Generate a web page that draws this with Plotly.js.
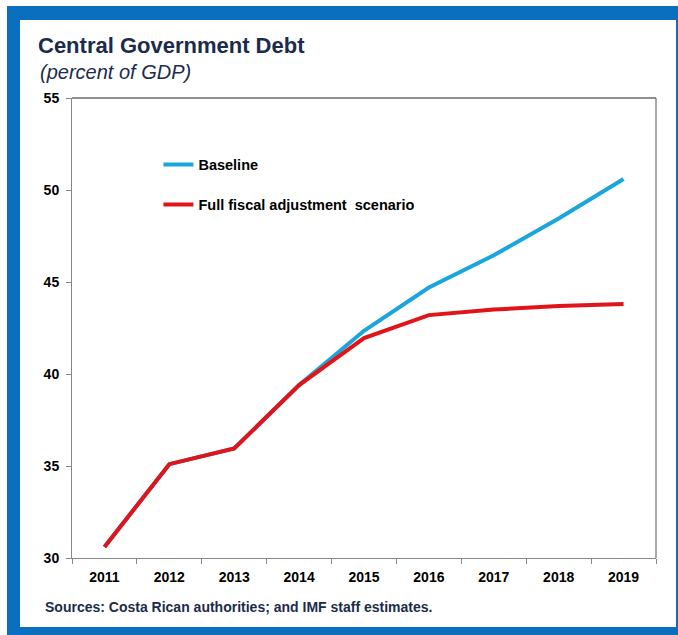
<!DOCTYPE html>
<html>
<head>
<meta charset="utf-8">
<script src="https://cdn.plot.ly/plotly-3.0.1.min.js"></script>
<style>
  html, body { margin: 0; padding: 0; background: #ffffff; }
  #wrap { position: relative; width: 678px; height: 635px; overflow: hidden; background: #ffffff; }
  #frame { position: absolute; left: 7px; top: 6px; right: 0px; bottom: 0px;
           border-top: 14px solid #0b6fc0; border-left: 13px solid #0b6fc0;
           border-right: 2px solid #0b6fc0; border-bottom: 8px solid #0b6fc0; box-sizing: border-box; }
  #chart { position: absolute; left: 0; top: 0; width: 678px; height: 635px; }
</style>
</head>
<body>
<div id="wrap">
  <div id="frame"></div>
  <div id="chart"></div>
</div>
<script>
const years = ['2011', '2012', '2013', '2014', '2015', '2016', '2017', '2018', '2019'];
const baseline = [30.6, 35.1, 35.95, 39.4, 42.35, 44.7, 46.45, 48.45, 50.6];
const fullAdjustment = [30.6, 35.1, 35.95, 39.4, 41.95, 43.2, 43.5, 43.7, 43.8];
const seriesNames = ['Baseline', 'Full fiscal adjustment  scenario'];
const yTicks = [30, 35, 40, 45, 50, 55];

const font = 'Liberation Sans, Arial, sans-serif';
const navy = '#1c2b4a';

const traces = [
  { x: years, y: baseline, name: seriesNames[0], type: 'scatter', mode: 'lines',
    line: { color: '#1aa6dc', width: 4 }, legendgroup: 'a' },
  { x: years, y: fullAdjustment, name: seriesNames[1], type: 'scatter', mode: 'lines',
    line: { color: '#e01419', width: 4 }, legendgroup: 'b' }
];

const layout = {
  width: 678, height: 635,
  paper_bgcolor: 'rgba(0,0,0,0)', plot_bgcolor: '#ffffff',
  margin: { l: 72, r: 22, t: 98, b: 77 },
  showlegend: true,
  legend: { x: 0.148, y: 0.89, xanchor: 'left', yanchor: 'top', bgcolor: 'rgba(0,0,0,0)',
            font: { family: font, size: 14.5, color: '#000', weight: 'bold' },
            tracegroupgap: 18, itemwidth: 30 },
  title: { text: 'Central Government Debt', xref: 'container', yref: 'container',
           x: 38 / 678, xanchor: 'left', y: 1 - 45 / 635, yanchor: 'middle',
           font: { family: font, size: 22, color: navy, weight: 'bold' } },
  xaxis: { type: 'category', range: [-0.5, 8.5], tickson: 'boundaries',
           ticks: 'outside', ticklen: 5, tickcolor: '#888', showline: true, linecolor: '#888', linewidth: 1,
           mirror: false, showgrid: false, zeroline: false, fixedrange: true, ticklabelstandoff: 6,
           tickfont: { family: font, size: 14, color: '#000', weight: 'bold' } },
  yaxis: { range: [30, 55], tickvals: yTicks, ticktext: yTicks.map(String),
           ticks: 'outside', ticklen: 5, tickcolor: '#888', showline: true, linecolor: '#888', linewidth: 1,
           mirror: false, showgrid: false, zeroline: false, fixedrange: true, ticklabelstandoff: 4,
           tickfont: { family: font, size: 14, color: '#000', weight: 'bold' } },
  shapes: [
    { type: 'line', xref: 'paper', yref: 'paper', x0: 0, x1: 1, y0: 1, y1: 1, line: { color: '#222', width: 1.2 } },
    { type: 'line', xref: 'paper', yref: 'paper', x0: 1, x1: 1, y0: 0, y1: 1, line: { color: '#555', width: 1 } }
  ],
  annotations: [
    { text: '<i>(percent of GDP)</i>', xref: 'paper', yref: 'paper', showarrow: false,
      x: (38 - 72) / 584, xanchor: 'left', y: (558 - 72) / 460, yanchor: 'middle',
      font: { family: font, size: 20, color: navy } },
    { text: 'Sources: Costa Rican authorities; and IMF staff estimates.', xref: 'paper', yref: 'paper', showarrow: false,
      x: (43 - 72) / 584, xanchor: 'left', y: (558 - 607) / 460, yanchor: 'middle',
      font: { family: font, size: 14, color: navy, weight: 'bold' } }
  ]
};

Plotly.newPlot('chart', traces, layout, { displayModeBar: false, staticPlot: true });
</script>
</body>
</html>
